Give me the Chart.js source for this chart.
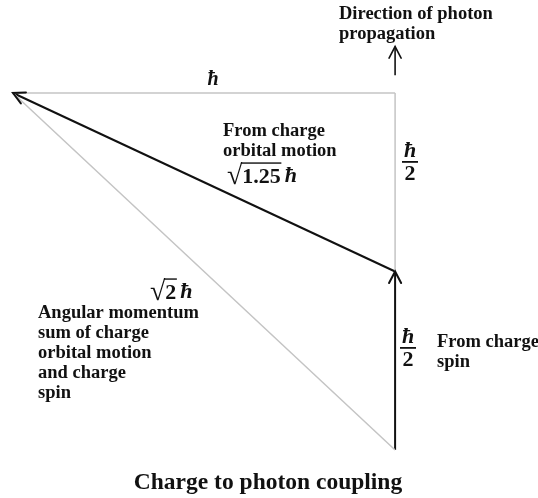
<!DOCTYPE html>
<html>
<head>
<meta charset="utf-8">
<script src="https://cdn.jsdelivr.net/npm/chart.js@4"></script>
<style>
  html, body { margin: 0; padding: 0; background: #fff; }
  #wrap { width: 538px; height: 498px; }
</style>
</head>
<body>
<div id="wrap"><canvas id="chart"></canvas></div>
<script>
// Vecteurs en unités de ħ : [x, y] début -> fin
const hbarVector = [[0, 1], [-1, 1]];          // ħ horizontal
const upperHalfVector = [[0, 0.5], [0, 1]];    // ħ/2 (haut)
const spinVector = [[0, 0], [0, 0.5]];         // ħ/2 spin
const orbitalVector = [[0, 0.5], [-1, 1]];     // √1.25 ħ
const sumVector = [[0, 0], [-1, 1]];           // √2 ħ
const photonVector = [[0, 1.05], [0, 1.13]];   // direction du photon

const GREY = '#c4c4c4';
const BLACK = '#111111';
const SERIF = '"Liberation Serif", "Times New Roman", serif';

const toPoints = v => v.map(([x, y]) => ({ x, y }));

function vectorDataset(v, color, width, arrow) {
  return {
    data: toPoints(v),
    showLine: true,
    borderColor: color,
    borderWidth: width,
    pointRadius: 0,
    fill: false,
    arrow
  };
}

// Pointes de flèche ouvertes (en V)
const arrowPlugin = {
  id: 'arrows',
  afterDatasetsDraw(chart) {
    const ctx = chart.ctx;
    chart.data.datasets.forEach((ds, i) => {
      if (!ds.arrow) return;
      const pts = chart.getDatasetMeta(i).data;
      const a = pts[pts.length - 2], b = pts[pts.length - 1];
      const ang = Math.atan2(b.y - a.y, b.x - a.x);
      const len = 13, spread = Math.PI / 6.5;
      ctx.save();
      ctx.strokeStyle = ds.borderColor;
      ctx.lineWidth = ds.borderWidth;
      ctx.lineCap = 'round';
      ctx.beginPath();
      ctx.moveTo(b.x - len * Math.cos(ang - spread), b.y - len * Math.sin(ang - spread));
      ctx.lineTo(b.x, b.y);
      ctx.lineTo(b.x - len * Math.cos(ang + spread), b.y - len * Math.sin(ang + spread));
      ctx.stroke();
      ctx.restore();
    });
  }
};

// Textes et annotations
const textPlugin = {
  id: 'texts',
  afterDraw(chart) {
    const ctx = chart.ctx;
    ctx.save();
    ctx.fillStyle = BLACK;
    ctx.textBaseline = 'middle';

    const lines = (arr, x, y0, step, size) => {
      ctx.font = `bold ${size}px ${SERIF}`;
      ctx.textAlign = 'left';
      arr.forEach((t, k) => ctx.fillText(t, x, y0 + k * step));
    };
    const hbar = (x, y, size) => {
      ctx.font = `italic bold ${size}px ${SERIF}`;
      ctx.textAlign = 'center';
      ctx.fillText('ħ', x, y);
    };
    const frac = (x, y) => {
      hbar(x, y - 11, 22);
      ctx.fillRect(x - 8, y - 1, 16, 1.8);
      ctx.font = `bold 22px ${SERIF}`;
      ctx.textAlign = 'center';
      ctx.fillText('2', x, y + 12);
    };
    const radical = (x, y, inner, size) => {
      ctx.font = `${size + 6}px ${SERIF}`;
      ctx.textAlign = 'left';
      ctx.fillText('√', x, y + 1);
      const rw = ctx.measureText('√').width;
      ctx.font = `bold ${size}px ${SERIF}`;
      const w = ctx.measureText(inner).width;
      ctx.fillText(inner, x + rw, y + 1);
      ctx.fillRect(x + rw - 1.5, y - size * 0.62, w + 2, 1.4);
      hbar(x + rw + w + 10, y, size);
    };

    lines(['Direction of photon', 'propagation'], 339, 14, 20, 18.5);
    hbar(213, 80, 20);
    lines(['From charge', 'orbital motion'], 223, 131, 20, 18.5);
    radical(227, 176, '1.25', 22);
    frac(410, 162);
    frac(408, 348);
    lines(['From charge', 'spin'], 437, 342, 20, 18.5);
    radical(150, 292, '2', 22);
    lines(['Angular momentum', 'sum of charge', 'orbital motion', 'and charge', 'spin'], 38, 313, 20, 18.5);

    ctx.font = `bold 23.5px ${SERIF}`;
    ctx.textAlign = 'center';
    ctx.fillText('Charge to photon coupling', 268, 483);
    ctx.restore();
  }
};

new Chart(document.getElementById('chart'), {
  type: 'scatter',
  data: {
    datasets: [
      vectorDataset(hbarVector, GREY, 1.5, false),
      vectorDataset(upperHalfVector, GREY, 1.5, false),
      vectorDataset(sumVector, GREY, 1.5, false),
      vectorDataset(orbitalVector, BLACK, 2, true),
      vectorDataset(spinVector, BLACK, 2, true),
      vectorDataset(photonVector, BLACK, 1.6, true)
    ]
  },
  options: {
    responsive: true,
    maintainAspectRatio: false,
    animation: false,
    layout: { padding: 0 },
    plugins: { legend: { display: false }, tooltip: { enabled: false } },
    scales: {
      x: { type: 'linear', display: false, min: -1.034, max: 0.374 },
      y: { type: 'linear', display: false, min: -0.1345, max: 1.2605 }
    }
  },
  plugins: [arrowPlugin, textPlugin]
});
</script>
</body>
</html>
